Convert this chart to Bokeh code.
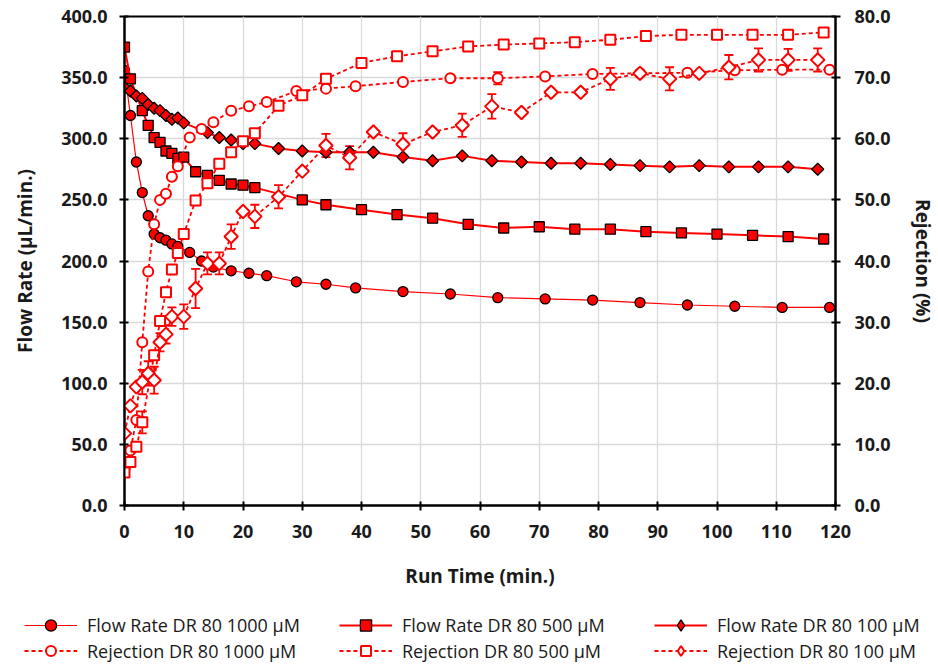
import numpy as np
from bokeh.plotting import figure
from bokeh.layouts import column
from bokeh.models import (Range1d, LinearAxis, FixedTicker, NumeralTickFormatter,
                          Legend, LegendItem, Whisker, ColumnDataSource, TeeHead)
from bokeh.embed import file_html
from bokeh.resources import INLINE

# ---------------- data ----------------
# Flow rate (uL/min), left axis
t_flow_1000 = [0, 1, 2, 3, 4, 5, 6, 7, 8, 9, 11, 13, 15, 18, 21, 24, 29, 34, 39, 47, 55, 63, 71, 79, 87, 95, 103, 111, 119]
flow_1000 = [356, 319, 281, 256, 237, 222, 219, 217, 214, 212, 207, 200, 195, 192, 190, 188, 183, 181, 178, 175, 173, 170, 169, 168, 166, 164, 163, 162, 162]

t_flow_500 = [0, 1, 3, 4, 5, 6, 7, 8, 9, 10, 12, 14, 16, 18, 20, 22, 30, 34, 40, 46, 52, 58, 64, 70, 76, 82, 88, 94, 100, 106, 112, 118]
flow_500 = [375, 349, 323, 311, 301, 297, 290, 288, 284, 285, 273, 270, 266, 263, 262, 260, 250, 246, 242, 238, 235, 230, 227, 228, 226, 226, 224, 223, 222, 221, 220, 218]

t_flow_100 = [0, 1, 2, 3, 4, 5, 6, 7, 8, 9, 10, 14, 16, 18, 20, 22, 26, 30, 34, 38, 42, 47, 52, 57, 62, 67, 72, 77, 82, 87, 92, 97, 102, 107, 112, 117]
flow_100 = [342, 339, 335, 333, 328, 325, 323, 319, 316, 317, 313, 305, 301, 299, 296, 296, 292, 290, 289, 289, 289, 285, 282, 286, 282, 281, 280, 280, 279, 278, 277, 278, 277, 277, 277, 275]

# Rejection (%), right axis
t_rej_1000 = [0, 1, 2, 3, 4, 5, 6, 7, 8, 9, 11, 13, 15, 18, 21, 24, 29, 34, 39, 47, 55, 63, 71, 79, 87, 95, 103, 111, 119]
rej_1000 = [6, 9, 14, 26.7, 38.3, 46, 50, 51, 53.8, 55.5, 60.2, 61.6, 62.7, 64.6, 65.3, 66, 67.8, 68.2, 68.6, 69.3, 69.9, 69.9, 70.2, 70.6, 70.7, 70.8, 71.2, 71.3, 71.3]
err_1000 = [0, 0, 0, 0, 0, 0, 0, 0, 0, 0, 0, 0, 0, 0, 0, 0, 0, 0, 0, 0, 0, 1.0, 0, 0, 0, 0, 0, 0, 0]

t_rej_500 = [0, 1, 2, 3, 5, 6, 7, 8, 9, 10, 12, 14, 16, 18, 20, 22, 26, 30, 34, 40, 46, 52, 58, 64, 70, 76, 82, 88, 94, 100, 106, 112, 118]
rej_500 = [5.4, 7.1, 9.6, 13.6, 24.6, 30.2, 34.9, 38.6, 41.3, 44.4, 49.9, 52.7, 55.9, 57.8, 59.6, 60.9, 65.4, 67.1, 69.8, 72.4, 73.5, 74.3, 75.1, 75.4, 75.6, 75.8, 76.2, 76.8, 77.0, 77.0, 77.0, 77.0, 77.4]
err_500 = [0, 0, 0, 1.8, 0, 0, 0, 0, 0, 0, 0, 0, 0, 0, 0, 0, 0, 0, 0, 0, 0, 0, 0, 0, 0, 0, 0, 0, 0, 0, 0, 0, 0]

t_rej_100 = [0, 1, 2, 3, 4, 5, 6, 7, 8, 10, 12, 14, 16, 18, 20, 22, 26, 30, 34, 38, 42, 47, 52, 57, 62, 67, 72, 77, 82, 87, 92, 97, 102, 107, 112, 117]
rej_100 = [11.8, 16.3, 19.4, 20.2, 21.6, 20.5, 26.7, 28, 30.9, 30.9, 35.5, 39.6, 39.6, 44, 48.1, 47.3, 50.5, 54.7, 58.9, 56.9, 61.1, 59.1, 61.1, 62.2, 65.3, 64.3, 67.6, 67.6, 69.8, 70.7, 69.8, 70.7, 71.7, 72.9, 72.9, 72.9]
err_100 = [0, 0, 0, 2, 2, 2.2, 1.5, 1.5, 1.5, 2, 3.2, 1.8, 1.8, 2, 0, 1.9, 1.9, 0, 1.9, 1.9, 0, 1.8, 0, 1.9, 2, 0, 0, 0, 1.8, 0, 1.9, 0, 2, 1.9, 1.8, 1.9]

x_ticks = list(range(0, 121, 10))
flow_ticks = list(range(0, 401, 50))
rej_ticks = list(range(0, 81, 10))

labels = ["Flow Rate DR 80 1000 µM", "Flow Rate DR 80 500 µM", "Flow Rate DR 80 100 µM",
          "Rejection DR 80 1000 µM", "Rejection DR 80 500 µM", "Rejection DR 80 100 µM"]

# ---------------- styling ----------------
RED = "#ff0000"
FONT = "Open Sans"
TXT = "#1a1a1a"
DASH = "4 3"

# series styles: (line kwargs, marker kwargs)
FLOW_STYLES = [
    (dict(line_color=RED, line_width=1.2),
     dict(marker="circle", size=10, fill_color=RED, line_color="black", line_width=1.3)),
    (dict(line_color=RED, line_width=2),
     dict(marker="square", size=10, fill_color=RED, line_color="black", line_width=1.3)),
    (dict(line_color=RED, line_width=2),
     dict(marker="square", angle=np.pi / 4, size=8.5, fill_color=RED, line_color="black", line_width=1.3)),
]
REJ_STYLES = [
    (dict(line_color=RED, line_width=1.8, line_dash=DASH),
     dict(marker="circle", size=10, fill_color="white", line_color=RED, line_width=2)),
    (dict(line_color=RED, line_width=1.8, line_dash=DASH),
     dict(marker="square", size=10, fill_color="white", line_color=RED, line_width=2)),
    (dict(line_color=RED, line_width=1.8, line_dash=DASH),
     dict(marker="square", angle=np.pi / 4, size=9.5, fill_color="white", line_color=RED, line_width=2)),
]

p = figure(frame_width=711, frame_height=489,
           x_range=Range1d(0, 120), y_range=Range1d(0, 400),
           output_backend="svg", toolbar_location=None,
           min_border_left=124, min_border_right=103, min_border_top=16, min_border_bottom=95,
           x_axis_label="Run Time (min.)", y_axis_label="Flow Rate (µL/min.)")
p.extra_y_ranges = {"rej": Range1d(0, 80)}
p.background_fill_color = "white"
p.border_fill_color = "white"
p.outline_line_color = "black"
p.outline_line_width = 2

raxis = LinearAxis(y_range_name="rej", axis_label="Rejection (%)")
p.add_layout(raxis, "right")

p.xaxis.ticker = FixedTicker(ticks=x_ticks)
p.yaxis[0].ticker = FixedTicker(ticks=flow_ticks)
p.yaxis[0].formatter = NumeralTickFormatter(format="0.0")
raxis.ticker = FixedTicker(ticks=rej_ticks)
raxis.formatter = NumeralTickFormatter(format="0.0")

for ax in [p.xaxis[0], p.yaxis[0], raxis]:
    ax.axis_line_color = "black"
    ax.axis_line_width = 2
    ax.major_tick_line_color = "black"
    ax.major_tick_line_width = 2
    ax.major_tick_in = 4
    ax.major_tick_out = 5
    ax.minor_tick_line_color = None
    ax.major_label_text_font = FONT
    ax.major_label_text_font_style = "bold"
    ax.major_label_text_font_size = "18px"
    ax.major_label_text_color = TXT
    ax.axis_label_text_font = FONT
    ax.axis_label_text_font_style = "bold"
    ax.axis_label_text_font_size = "19px"
    ax.axis_label_text_color = TXT

p.xaxis[0].major_label_standoff = 14
p.xaxis[0].axis_label_standoff = 22
p.yaxis[0].major_label_standoff = 12
p.yaxis[0].axis_label_standoff = 20
raxis.major_label_standoff = 14
raxis.axis_label_standoff = 16

for g in [p.xgrid[0], p.ygrid[0]]:
    g.grid_line_color = "#d9d9d9"
    g.grid_line_width = 1.3

# ---------------- flow series ----------------
flow_series = [(t_flow_1000, flow_1000), (t_flow_500, flow_500), (t_flow_100, flow_100)]
for (t, v), (lk, mk) in zip(flow_series, FLOW_STYLES):
    p.line(t, v, **lk)
    p.scatter(t, v, **mk)

# ---------------- error bars ----------------
def add_err(t, v, e):
    t = np.asarray(t, float); v = np.asarray(v, float); e = np.asarray(e, float)
    m = e > 0
    src = ColumnDataSource(dict(base=t[m], lower=v[m] - e[m], upper=v[m] + e[m]))
    w = Whisker(source=src, base="base", lower="lower", upper="upper", dimension="height",
                y_range_name="rej", line_color=RED, line_width=1.8, level="underlay",
                upper_head=TeeHead(size=9, line_color=RED, line_width=1.8),
                lower_head=TeeHead(size=9, line_color=RED, line_width=1.8))
    p.add_layout(w)

add_err(t_rej_1000, rej_1000, err_1000)
add_err(t_rej_500, rej_500, err_500)
add_err(t_rej_100, rej_100, err_100)

# ---------------- rejection series ----------------
rej_series = [(t_rej_1000, rej_1000), (t_rej_500, rej_500), (t_rej_100, rej_100)]
for (t, v), (lk, mk) in zip(rej_series, REJ_STYLES):
    p.line(t, v, y_range_name="rej", **lk)
    p.scatter(t, v, y_range_name="rej", **mk)

# ---------------- legend (separate strip below the chart) ----------------
# The strip's ranges keep its copies of the series out of view; only the legend shows.
lg = figure(frame_width=938, frame_height=63, x_range=Range1d(-2000, -1000), y_range=Range1d(-2000, -1000),
            output_backend="svg", toolbar_location=None, x_axis_type=None, y_axis_type=None,
            min_border=0, outline_line_color=None)
lg.background_fill_color = "white"
lg.border_fill_color = "white"

def legend_items(series, styles, labs):
    items = []
    for (t, v), (lk, mk), lab in zip(series, styles, labs):
        mk = dict(mk)
        if "angle" in mk:          # legend swatches ignore angle: use a true diamond
            mk.pop("angle")
            mk["marker"] = "diamond"
        r1 = lg.line(t, v, **lk)
        r2 = lg.scatter(t, v, **mk)
        items.append(LegendItem(label=lab, renderers=[r1, r2]))
    return items

def make_legend(items, loc, gh):
    leg = Legend(items=items, orientation="horizontal", location=loc,
                 glyph_width=53, glyph_height=gh, label_standoff=10, label_width=240,
                 label_height=20, spacing=12, padding=0, margin=0,
                 border_line_alpha=0, background_fill_alpha=0,
                 label_text_font=FONT, label_text_font_size="18px", label_text_color=TXT)
    lg.add_layout(leg)

make_legend(legend_items(flow_series, FLOW_STYLES, labels[:3]), (24, 24), 28)
make_legend(legend_items(rej_series, REJ_STYLES, labels[3:]), (24, 0), 25)

layout = column(p, lg, spacing=0)
open("out.html", "w").write(file_html(layout, INLINE))
